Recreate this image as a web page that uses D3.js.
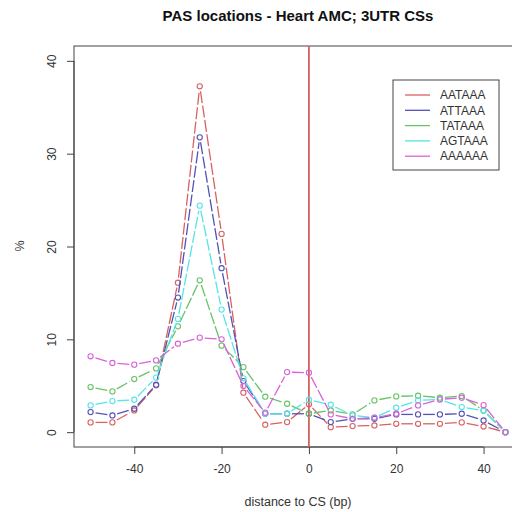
<!DOCTYPE html>
<html><head><meta charset="utf-8">
<script src="https://cdn.jsdelivr.net/npm/d3@7"></script>
<style>body{margin:0;background:#fff}svg{display:block;font-family:"Liberation Sans",Arial,sans-serif}</style>
</head><body><svg id="c" width="512" height="512"></svg>
<script>
const positions = [-50,-45,-40,-35,-30,-25,-20,-15,-10,-5,0,5,10,15,20,25,30,35,40,45];
const seriesNames = ["AATAAA","ATTAAA","TATAAA","AGTAAA","AAAAAA"];
const seriesColors = ["#d86262","#5252b8","#66c466","#55e5e5","#d862d8"];
const AATAAA = [1.05,1.05,2.34,5.04,16.1,37.26,21.36,4.25,0.8,1.08,3.0,0.54,0.65,0.72,0.9,0.9,0.9,1.05,0.61,0];
const ATTAAA = [2.16,1.8,2.52,5.11,14.5,31.76,17.66,5.5,1.98,1.98,1.98,1.08,1.44,1.44,1.91,1.91,1.91,1.98,1.26,0];
const TATAAA = [4.86,4.39,5.72,6.87,11.4,16.36,9.32,7.0,3.82,3.06,1.98,2.34,1.91,3.42,3.85,3.92,3.71,3.89,2.34,0];
const AGTAAA = [2.88,3.35,3.49,5.87,12.2,24.4,13.2,5.8,1.98,1.98,3.49,2.95,1.8,1.55,2.63,3.42,3.53,2.7,2.3,0];
const AAAAAA = [8.17,7.45,7.27,7.73,9.53,10.18,10.0,4.97,2.1,6.47,6.4,1.91,1.44,1.55,1.98,2.88,3.53,3.71,2.91,0];
const seriesValues = [AATAAA,ATTAAA,TATAAA,AGTAAA,AAAAAA];
const xTicks = [-40,-20,0,20,40];
const yTicks = [0,10,20,30,40];
const title = "PAS locations - Heart AMC; 3UTR CSs";
const xLabel = "distance to CS (bp)";
const yLabel = "%";

const svg = d3.select("#c");
const L=74, R=522, T=46, B=447;
const x = d3.scaleLinear().domain([-53.8,48.8]).range([L,R]);
const y = d3.scaleLinear().domain([-1.6,41.6]).range([B,T]);
const axisCol = "#444";
const fam = "Liberation Sans, Arial, sans-serif";

svg.append("rect").attr("x",L).attr("y",T).attr("width",R-L).attr("height",B-T)
  .attr("fill","none").attr("stroke",axisCol).attr("stroke-width",1);

const xa = svg.append("g").attr("transform",`translate(0,${B})`)
  .call(d3.axisBottom(x).tickValues(xTicks).tickSize(7).tickPadding(10).tickFormat(d=>String(d)));
xa.select(".domain").attr("d",`M${x(-40)},0H${x(40)}`).attr("stroke",axisCol);
xa.selectAll("line").attr("stroke",axisCol);
xa.selectAll("text").attr("font-size",12).attr("fill","#333").attr("font-family",fam);

const ya = svg.append("g").attr("transform",`translate(${L},0)`)
  .call(d3.axisLeft(y).tickValues(yTicks).tickSize(7).tickFormat(d=>String(d)));
ya.select(".domain").attr("d",`M0,${y(0)}V${y(40)}`).attr("stroke",axisCol);
ya.selectAll("line").attr("stroke",axisCol);
ya.selectAll("text").remove();
ya.selectAll(".tick").append("text")
  .attr("transform","translate(-22,0) rotate(-90)")
  .attr("text-anchor","middle").attr("dy","0.35em")
  .attr("font-size",12).attr("fill","#333").attr("font-family",fam)
  .text(d=>String(d));

svg.append("line").attr("x1",x(0)).attr("x2",x(0)).attr("y1",T).attr("y2",B)
  .attr("stroke","#d9605f").attr("stroke-width",1.8);

const gap = 5;
seriesValues.forEach((vals,si)=>{
  const g = svg.append("g");
  const col = seriesColors[si];
  const pts = positions.map((p,i)=>[x(p),y(vals[i])]);
  for(let i=0;i<pts.length-1;i++){
    const [x1,y1]=pts[i],[x2,y2]=pts[i+1];
    const dx=x2-x1, dy=y2-y1, len=Math.hypot(dx,dy);
    if(len<=2*gap) continue;
    const ux=dx/len, uy=dy/len;
    g.append("line").attr("x1",x1+ux*gap).attr("y1",y1+uy*gap)
      .attr("x2",x2-ux*gap).attr("y2",y2-uy*gap)
      .attr("stroke",col).attr("stroke-width",1.3).attr("stroke-dasharray","12,2.5");
  }
  g.selectAll("circle").data(pts).join("circle")
    .attr("cx",d=>d[0]).attr("cy",d=>d[1]).attr("r",2.6)
    .attr("fill","none").attr("stroke",col).attr("stroke-width",1.1);
});

const lg = svg.append("g");
lg.append("rect").attr("x",393).attr("y",80).attr("width",106).attr("height",90)
  .attr("fill","#fff").attr("stroke",axisCol).attr("stroke-width",1);
seriesNames.forEach((n,i)=>{
  const yy = 95 + i*15.3;
  lg.append("line").attr("x1",405).attr("x2",430).attr("y1",yy).attr("y2",yy)
    .attr("stroke",seriesColors[i]).attr("stroke-width",1.3);
  lg.append("text").attr("x",440).attr("y",yy).attr("dy","0.35em")
    .attr("font-size",12).attr("fill","#333").text(n);
});

svg.append("text").attr("x",298).attr("y",21).attr("text-anchor","middle")
  .attr("font-size",15).attr("font-weight","bold").attr("fill","#111").text(title);
svg.append("text").attr("x",298).attr("y",502).attr("text-anchor","middle").attr("dy","0.35em")
  .attr("font-size",12.5).attr("fill","#333").text(xLabel);
svg.append("text").attr("transform","translate(20,246) rotate(-90)").attr("text-anchor","middle").attr("dy","0.35em")
  .attr("font-size",12.5).attr("fill","#333").text(yLabel);
</script></body></html>
